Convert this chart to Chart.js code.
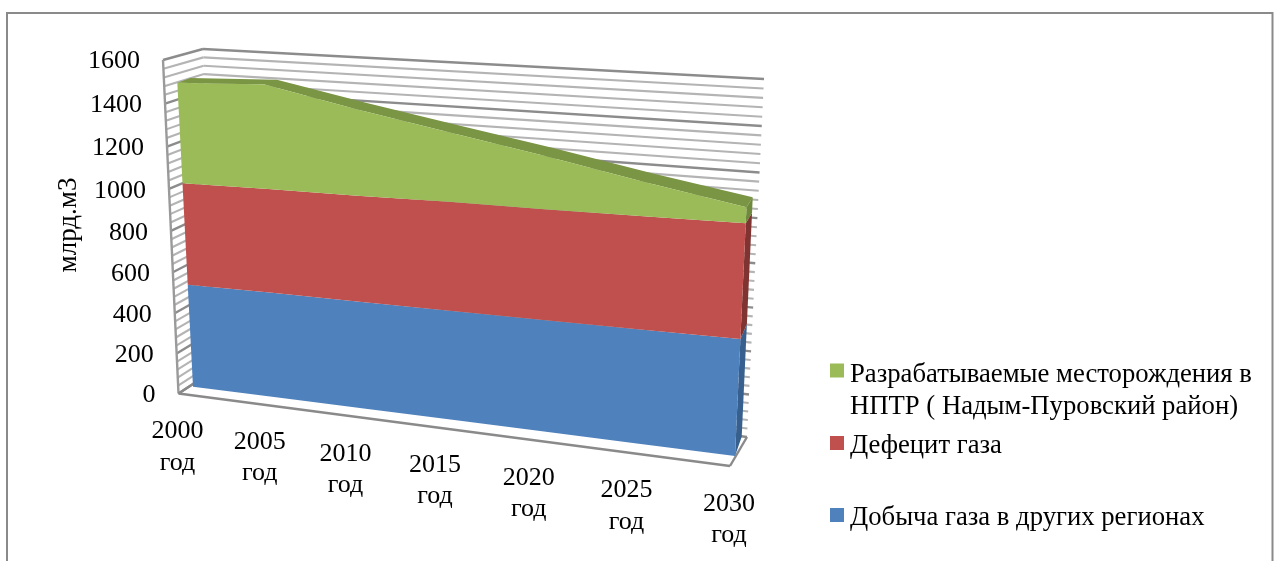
<!DOCTYPE html>
<html>
<head>
<meta charset="utf-8">
<style>
  html, body { margin: 0; background: #fff; }
  canvas { display: block; }
</style>
<script src="https://cdn.jsdelivr.net/npm/chart.js@4"></script>
</head>
<body>
<canvas id="myChart" width="1277" height="561"></canvas>
<script>
var categories = ['2000 год', '2005 год', '2010 год', '2015 год', '2020 год', '2025 год', '2030 год'];
var otherRegions = [507, 512, 514, 518, 522, 526, 531];
var gasDeficit = [487, 491, 493, 499, 499, 502, 505];
var nadymPur = [465, 475, 391, 308, 233, 147, 68];
var seriesNames = [
  'Добыча газа в других регионах',
  'Дефецит газа',
  'Разрабатываемые месторождения в НПТР ( Надым-Пуровский район)'
];
var axisTitle = 'млрд.м3';

var FONT = '"Liberation Serif", "Times New Roman", serif';

// maps the unit square onto a quadrilateral (perspective)
function quadMap(p00, p10, p11, p01) {
  var dx1 = p10[0] - p11[0], dx2 = p01[0] - p11[0], sx = p00[0] - p10[0] + p11[0] - p01[0];
  var dy1 = p10[1] - p11[1], dy2 = p01[1] - p11[1], sy = p00[1] - p10[1] + p11[1] - p01[1];
  var den = dx1 * dy2 - dx2 * dy1;
  var g = (sx * dy2 - dx2 * sy) / den;
  var h = (dx1 * sy - sx * dy1) / den;
  var a = p10[0] - p00[0] + g * p10[0], b = p01[0] - p00[0] + h * p01[0], c = p00[0];
  var d = p10[1] - p00[1] + g * p10[1], e = p01[1] - p00[1] + h * p01[1], f = p00[1];
  return function (u, v) {
    var w = g * u + h * v + 1;
    return [(a * u + b * v + c) / w, (d * u + e * v + f) / w];
  };
}

// planes of the 3D box
var backWall = quadMap([216, 369], [747, 437], [764, 79], [203, 49]);
var sideWall = quadMap([178.5, 393.5], [216, 369], [203, 49], [163, 60]);
var frontEdge = quadMap([178.5, 393.5], [730, 466], [747, 87], [163, 60]);
var areaFront = quadMap([193, 386.7], [735, 456], [752, 88], [175.7, 51.7]);
var areaBack = quadMap([205, 371], [741.7, 436.7], [758, 83], [189, 48]);

function polygon(ctx, pts, color) {
  ctx.beginPath();
  pts.forEach(function (p, i) {
    if (i === 0) ctx.moveTo(p[0], p[1]); else ctx.lineTo(p[0], p[1]);
  });
  ctx.closePath();
  ctx.fillStyle = color;
  ctx.fill();
}

function segment(ctx, a, b, color, width) {
  ctx.beginPath();
  ctx.moveTo(a[0], a[1]);
  ctx.lineTo(b[0], b[1]);
  ctx.strokeStyle = color;
  ctx.lineWidth = width;
  ctx.stroke();
}

var box3d = {
  id: 'box3d',
  // move the library's tick labels onto the slanted axes
  beforeDraw: function (chart) {
    var area = chart.chartArea;
    var x = chart.scales.x, y = chart.scales.y;
    x.getLabelItems(area).forEach(function (item, i) {
      var u = (x.getPixelForTick(i) - area.left) / (area.right - area.left);
      var p = frontEdge(u, 0);
      item.options.translation = [p[0] - 1, p[1] + 22.5];
      item.options.textAlign = 'center';
    });
    y.getLabelItems(area).forEach(function (item, i) {
      var v = (area.bottom - y.getPixelForTick(i)) / (area.bottom - area.top);
      var p = frontEdge(0, v);
      item.options.translation = [p[0] - 23, p[1] + 1.5];
      item.options.textAlign = 'right';
    });
  },
  beforeDatasetsDraw: function (chart) {
    var ctx = chart.ctx, area = chart.chartArea, y = chart.scales.y;
    ctx.save();
    ctx.lineCap = 'butt';

    // frame, open at the bottom
    ctx.beginPath();
    ctx.moveTo(7, 561);
    ctx.lineTo(7, 13);
    ctx.lineTo(1272.5, 13);
    ctx.lineTo(1272.5, 561);
    ctx.strokeStyle = '#8a8a8a';
    ctx.lineWidth = 2;
    ctx.stroke();

    // grid on both walls, a darker line every 200 and four minor ones between
    var step = 40;
    for (var val = 0; val <= y.max; val += step) {
      var v = (area.bottom - y.getPixelForValue(val)) / (area.bottom - area.top);
      var major = val % 200 === 0;
      var color = major ? '#8c8c8c' : '#b4b4b4';
      var width = major ? 2.4 : 2.1;
      segment(ctx, sideWall(0, v), sideWall(1, v), color, width);
      segment(ctx, backWall(0, v), backWall(1, v), color, width);
    }

    // wall edge and floor outline
    segment(ctx, sideWall(0, 0), sideWall(0, 1), '#9a9a9a', 2.4);
    var corners = [frontEdge(0, 0), frontEdge(1, 0), backWall(1, 0)];
    segment(ctx, corners[0], corners[1], '#8a8a8a', 2.4);
    segment(ctx, corners[1], corners[2], '#8a8a8a', 2.4);
    segment(ctx, corners[0], sideWall(1, 0), '#8a8a8a', 2.4);

    // stacked areas, taken from the points the line controller placed
    var toUnit = function (el) {
      return [(el.x - area.left) / (area.right - area.left), (area.bottom - el.y) / (area.bottom - area.top)];
    };
    var prev = null;
    chart.data.datasets.forEach(function (ds, i) {
      var pts = chart.getDatasetMeta(i).data.map(toUnit);
      var lower = prev || pts.map(function (p) { return [p[0], 0]; });
      var n = pts.length - 1;

      polygon(ctx, [
        areaFront(pts[n][0], lower[n][1]), areaFront(pts[n][0], pts[n][1]),
        areaBack(pts[n][0], pts[n][1]), areaBack(pts[n][0], lower[n][1])
      ], ds.sideColor);

      if (i === chart.data.datasets.length - 1) {
        var strip = pts.map(function (p) { return areaFront(p[0], p[1]); });
        pts.slice().reverse().forEach(function (p) { strip.push(areaBack(p[0], p[1])); });
        polygon(ctx, strip, ds.topColor);
      }

      var face = pts.map(function (p) { return areaFront(p[0], p[1]); });
      lower.slice().reverse().forEach(function (p) { face.push(areaFront(p[0], p[1])); });
      polygon(ctx, face, ds.backgroundColor);
      prev = pts;
    });

    // legend with wrapped names
    var rows = [
      { ds: 2, swatchY: 363.5, textY: 374.5 },
      { ds: 1, swatchY: 436, textY: 446 },
      { ds: 0, swatchY: 508, textY: 518 }
    ];
    ctx.font = '26.7px ' + FONT;
    ctx.textAlign = 'left';
    ctx.textBaseline = 'middle';
    rows.forEach(function (row) {
      var ds = chart.data.datasets[row.ds];
      ctx.fillStyle = ds.backgroundColor;
      ctx.fillRect(830, row.swatchY, 14, 14);
      ctx.fillStyle = '#000';
      var line = '', ly = row.textY;
      ds.label.split(' ').forEach(function (word) {
        var next = line ? line + ' ' + word : word;
        if (ctx.measureText(next).width > 415) {
          ctx.fillText(line, 850, ly);
          ly += 32;
          line = word;
        } else {
          line = next;
        }
      });
      ctx.fillText(line, 850, ly);
    });
    ctx.restore();
  }
};

new Chart(document.getElementById('myChart').getContext('2d'), {
  type: 'line',
  plugins: [box3d],
  data: {
    labels: categories,
    datasets: [
      { label: seriesNames[0], data: otherRegions, backgroundColor: '#4F81BD', sideColor: '#38608F', topColor: '#38608F' },
      { label: seriesNames[1], data: gasDeficit, backgroundColor: '#C0504D', sideColor: '#7F3432', topColor: '#7F3432' },
      { label: seriesNames[2], data: nadymPur, backgroundColor: '#9BBB59', sideColor: '#6F8A3C', topColor: '#7A9543' }
    ]
  },
  options: {
    responsive: false,
    animation: false,
    layout: { padding: { left: 53, top: 60, right: 517, bottom: 0 } },
    datasets: { line: { fill: false, borderWidth: 0, pointRadius: 0, showLine: false } },
    plugins: { legend: { display: false }, tooltip: { enabled: false } },
    scales: {
      x: {
        offset: false,
        grid: { display: false },
        border: { display: false },
        afterFit: function (s) { s.height = 171; },
        ticks: {
          autoSkip: false,
          maxRotation: 0,
          color: '#000',
          font: { family: FONT, size: 26, lineHeight: 1.2 },
          callback: function (value) { return this.getLabelForValue(value).split(' '); }
        }
      },
      y: {
        stacked: true,
        min: 0,
        max: 1600,
        grid: { display: false },
        border: { display: false },
        afterFit: function (s) { s.width = 112; },
        title: { display: true, text: axisTitle, color: '#000', padding: 0, font: { family: FONT, size: 27 } },
        ticks: {
          stepSize: 200,
          color: '#000',
          font: { family: FONT, size: 26 },
          callback: function (value) { return String(value); }
        }
      }
    }
  }
});
</script>
</body>
</html>
